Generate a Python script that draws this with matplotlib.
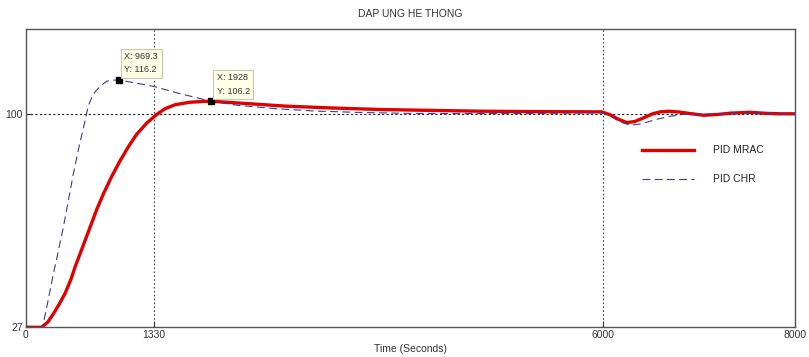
import matplotlib
matplotlib.use("Agg")
import matplotlib.pyplot as plt

plt.rcParams["font.family"] = ["Liberation Sans", "DejaVu Sans"]

# Step response data (time in seconds, response value)
t_mrac = [0, 165, 230, 290, 350, 410, 470, 513, 590, 669, 740, 807, 890, 981, 1070,
          1154, 1260, 1362, 1450, 1550, 1700, 1850, 1928, 2100, 2400, 2700, 3200,
          3700, 4200, 4750, 5400, 5990, 6080, 6160, 6250, 6330, 6420, 6520, 6600,
          6690, 6800, 6910, 7050, 7200, 7330, 7530, 7700, 7850, 8000]
y_mrac = [0, 0, 2.5, 6.5, 11, 16, 22.5, 28.3, 37.5, 47, 55.5, 62.6, 70.5, 78.2, 85,
          90.7, 96, 100, 102.7, 104.5, 105.7, 106.1, 106.2, 105.7, 104.8, 103.9, 103,
          102.3, 101.9, 101.5, 101.3, 101.2, 99.8, 97.8, 96.2, 96.6, 98.3, 100.3, 101.2,
          101.5, 101.1, 100.4, 99.6, 100, 100.6, 101, 100.5, 100.3, 100.3]

t_chr = [0, 175, 230, 287, 340, 391, 445, 495, 550, 599, 651, 700, 773, 842, 900,
         969.3, 1100, 1327, 1600, 1928, 2200, 2600, 3000, 3500, 4000, 4600, 5400,
         5990, 6080, 6180, 6290, 6400, 6560, 6700, 6840, 7000, 7200, 7400, 7600,
         7800, 8000]
y_chr = [0, 0, 12, 25, 36, 47, 60, 72, 84, 93.5, 104, 109.5, 113.2, 115.6, 116.1,
         116.2, 115.1, 113.2, 109.8, 106.2, 104.3, 102.7, 101.6, 100.9, 100.5, 100.4,
         100.5, 100.8, 99.2, 96.5, 94.9, 95.6, 97.7, 99.1, 100, 100.1, 100.2, 100.6,
         100.6, 100.3, 100.2]

x_ticks = [0, 1330, 6000, 8000]
x_tick_labels = ["0", "1330", "6000", "8000"]
y_ticks = [0, 100]
y_tick_labels = ["27", "100"]

# Data tips: (x, y)
tips = [(969.3, 116.2), (1928, 106.2)]

fig = plt.figure(figsize=(8.09, 3.57), dpi=100)
ax = fig.add_axes([0.0318, 0.0832, 0.9509, 0.8348])

ax.plot(t_mrac, y_mrac, color="#e00000", lw=2.4, label="PID MRAC",
        solid_joinstyle="round", zorder=3)
ax.plot(t_chr, y_chr, color="#3c3c96", lw=0.8, dashes=(7, 4), label="PID CHR",
        zorder=4)

ax.set_xlim(0, 8000)
ax.set_ylim(0, 140)
ax.set_xticks(x_ticks)
ax.set_xticklabels(x_tick_labels)
ax.set_yticks(y_ticks)
ax.set_yticklabels(y_tick_labels)
ax.tick_params(direction="in", length=4, labelsize=7.5, colors="#333333", pad=2)

# Grid only at the tick positions inside the axes
for xv in x_ticks[1:-1]:
    ax.axvline(xv, color="#444444", lw=0.8, ls=(0, (1.5, 2)), zorder=1)
ax.axhline(100, color="#222222", lw=0.8, ls=(0, (2, 2)), zorder=1)

for s in ax.spines.values():
    s.set_color("#555555")
    s.set_linewidth(1.0)

ax.set_title("DAP UNG HE THONG", fontsize=7.5, color="#333333", pad=9)
ax.set_xlabel("Time (Seconds)", fontsize=7.5, color="#333333", labelpad=3)

for xv, yv in tips:
    ax.plot([xv], [yv], marker="s", ms=5, color="black", zorder=6, ls="none")
    ax.annotate(f"X: {xv:g}\nY: {yv:g}", xy=(xv, yv), xytext=(4, 4),
                textcoords="offset points", ha="left", va="bottom", fontsize=6.5,
                color="#333333", linespacing=1.6, zorder=7,
                bbox=dict(boxstyle="square,pad=0.4", fc="#ffffe6",
                          ec="#c8c8b4", lw=0.8))

leg = ax.legend(loc="center left", bbox_to_anchor=(0.789, 0.545), frameon=False,
                fontsize=7.5, handlelength=5.0, handletextpad=1.8,
                labelspacing=1.8)
for txt in leg.get_texts():
    txt.set_color("#222222")

fig.savefig("out.png", dpi=100)
